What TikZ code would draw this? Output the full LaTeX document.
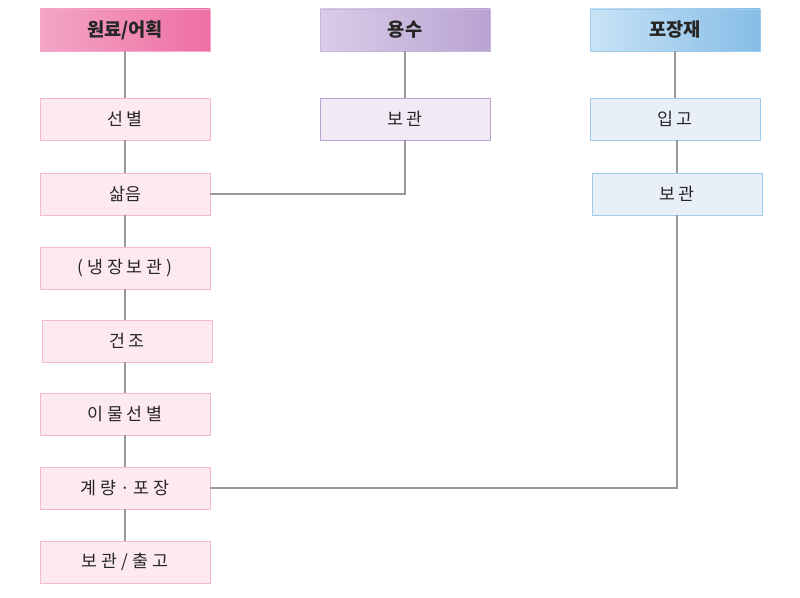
\documentclass[tikz,border=0pt]{standalone}
\usepackage{fontspec}
\setmainfont{Noto Sans CJK KR}
\usetikzlibrary{shadows}
\definecolor{pinkA}{HTML}{F3A6C6}\definecolor{pinkB}{HTML}{EE6FA2}
\definecolor{purA}{HTML}{D9CDE8}\definecolor{purB}{HTML}{B9A3D2}
\definecolor{bluA}{HTML}{C9E3F6}\definecolor{bluB}{HTML}{86BDE6}
\definecolor{pinkL}{HTML}{FDE9F0}\definecolor{purL}{HTML}{F1EAF5}\definecolor{bluL}{HTML}{E9EFF9}
\tikzset{
 base/.style={minimum width=127.5pt,minimum height=31.5pt,inner sep=0pt,text=black!85,drop shadow={shadow xshift=1pt,shadow yshift=-1pt,opacity=0.4}},
 head/.style={base,font=\fontsize{14}{16}\selectfont\bfseries},
 box/.style={base,font=\fontsize{13}{15}\selectfont},
 ln/.style={draw=gray!80,line width=0.8pt}
}
\begin{document}
\begin{tikzpicture}[x=0.75pt,y=-0.75pt]
\useasboundingbox (0,0) rectangle (800,598);
\node[head,left color=pinkA,right color=pinkB,draw=pinkB!60] (h1) at (125,30) {원료/어획};
\node[head,left color=purA,right color=purB,draw=purB!80] (h2) at (405,30) {용수};
\node[head,left color=bluA,right color=bluB,draw=bluB!80] (h3) at (675,30) {포장재};
\tikzset{pb/.style={box,fill=pinkL,draw=pinkB!50}}
\node[pb] (a1) at (125,119) {선 별};
\node[pb] (a2) at (125,194) {삶음};
\node[pb] (a3) at (125,268) {( 냉 장 보 관 )};
\node[pb] (a4) at (127,341) {건 조};
\node[pb] (a5) at (125,414) {이 물 선 별};
\node[pb] (a6) at (125,488) {계 량 · 포 장};
\node[pb] (a7) at (125,562) {보 관 / 출 고};
\node[box,fill=purL,draw=purB] (b1) at (405,119) {보 관};
\node[box,fill=bluL,draw=bluB!80] (c1) at (675,119) {입 고};
\node[box,fill=bluL,draw=bluB!80] (c2) at (677,194) {보 관};
\draw[ln] (h1) -- (a1) -- (a2) -- (a3) -- (a4.north -| a3) (a4.south -| a5) -- (a5) -- (a6) -- (a7);
\draw[ln] (h2) -- (b1);
\draw[ln] (b1.south) |- (a2.east);
\draw[ln] (h3) -- (c1) (c1.south -| c2) -- (c2);
\draw[ln] (c2.south) |- (a6.east);
\end{tikzpicture}
\end{document}
